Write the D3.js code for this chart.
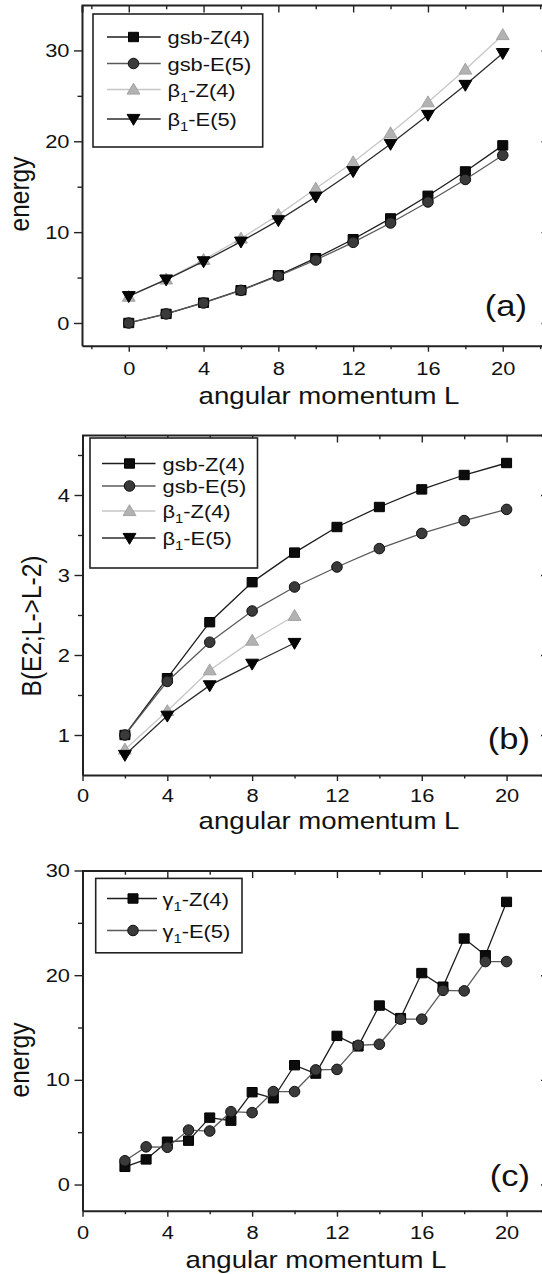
<!DOCTYPE html>
<html>
<head>
<meta charset="utf-8">
<script src="https://cdn.jsdelivr.net/npm/d3@7"></script>
<style>
  body { margin: 0; background: #fff; }
  svg text { font-family: "Liberation Sans", Arial, sans-serif; fill: #111; }
</style>
</head>
<body>
<svg id="chart"></svg>
<script>
const width = 542;
const height = 1274;
const SX = 1.15; // the original figure is stretched a bit horizontally

// ---- panel (a): energies of ground and beta bands
const aL = [0, 2, 4, 6, 8, 10, 12, 14, 16, 18, 20];
const aGsbZ4 = [0, 1, 2.23, 3.61, 5.25, 7.13, 9.22, 11.51, 14.0, 16.68, 19.55];
const aGsbE5 = [0, 1, 2.2, 3.59, 5.17, 6.93, 8.88, 11.01, 13.32, 15.8, 18.46];
const aBetaZ4 = [2.9, 4.8, 6.95, 9.3, 11.9, 14.8, 17.7, 20.9, 24.3, 27.9, 31.7];
const aBetaE5 = [2.95, 4.78, 6.78, 8.95, 11.3, 13.9, 16.7, 19.7, 22.9, 26.2, 29.7];

// ---- panel (b): B(E2; L -> L-2)
const bL = [2, 4, 6, 8, 10, 12, 14, 16, 18, 20];
const bGsbZ4 = [1.0, 1.71, 2.41, 2.91, 3.28, 3.6, 3.85, 4.07, 4.25, 4.4];
const bGsbE5 = [1.0, 1.67, 2.16, 2.55, 2.85, 3.1, 3.33, 3.52, 3.68, 3.82];
const bBetaL = [2, 4, 6, 8, 10];
const bBetaZ4 = [0.82, 1.3, 1.81, 2.18, 2.49];
const bBetaE5 = [0.75, 1.24, 1.62, 1.89, 2.15];

// ---- panel (c): gamma band energies
const cL = [2, 3, 4, 5, 6, 7, 8, 9, 10, 11, 12, 13, 14, 15, 16, 17, 18, 19, 20];
const cGammaZ4 = [1.69, 2.4, 4.09, 4.19, 6.39, 6.1, 8.82, 8.24, 11.4, 10.6, 14.2, 13.2, 17.1, 15.9, 20.2, 18.9, 23.5, 21.9, 27.0];
const cGammaE5 = [2.27, 3.6, 3.56, 5.2, 5.11, 6.96, 6.87, 8.88, 8.88, 10.95, 11.0, 13.3, 13.4, 15.8, 15.8, 18.55, 18.5, 21.3, 21.3];

// tick values
const xMajor = [0, 4, 8, 12, 16, 20];
const aXMinor = [-2, 2, 6, 10, 14, 18, 22];
const bcXMinor = [2, 6, 10, 14, 18];
const energyMajor = [0, 10, 20, 30];
const energyMinor = [5, 15, 25];
const bYMajor = [1, 2, 3, 4];
const bYMinor = [1.5, 2.5, 3.5, 4.5];

// marker shapes and colours
const shapes = {
  square: "M-5,-4.7H5V4.7H-5Z",
  circle: d3.symbol(d3.symbolCircle, 88)(),
  up: "M0,-6.3L6.4,4.6L-6.4,4.6Z",
  down: "M0,6.3L6.4,-4.6L-6.4,-4.6Z"
};
const styles = {
  sq:   {shape: "square", fill: "#0c0c0c", stroke: "#000",   line: "#1c1c1c"},
  ci:   {shape: "circle", fill: "#3a3a3a", stroke: "#111",   line: "#5a5a5a"},
  up:   {shape: "up",     fill: "#b2b2b2", stroke: "#a2a2a2", line: "#c6c6c6"},
  down: {shape: "down",   fill: "#050505", stroke: "#000",   line: "#2c2c2c"}
};

const svg = d3.select("#chart")
  .attr("width", width)
  .attr("height", height);

const panels = [
  {
    left: 82, right: 549.5, top: 5, bottom: 345.7,
    xDomain: [-2.5, 22.5], yDomain: [-2.5, 35],
    xMinor: aXMinor, yMajor: energyMajor, yMinor: energyMinor,
    series: [
      {sub: null, pre: "gsb-Z(4)", L: aL, v: aGsbZ4, st: styles.sq},
      {sub: null, pre: "gsb-E(5)", L: aL, v: aGsbE5, st: styles.ci},
      {sub: "1", pre: "β", post: "-Z(4)", L: aL, v: aBetaZ4, st: styles.up},
      {sub: "1", pre: "β", post: "-E(5)", L: aL, v: aBetaE5, st: styles.down}
    ],
    legend: {x0: 93, y0: 14, x1: 262.7, y1: 147, rows: [37, 63.5, 89.5, 119], lx: [107, 160.7], mx: 133.5, tx: 167.5},
    tag: "(a)", tagX: 527, tagY: 315.5,
    yTitle: "energy", yTitleX: 29, yTitleY: 194,
    tickY: 29.5, xTitleX: 329, xTitleY: 404
  },
  {
    left: 82.5, right: 549, top: 435, bottom: 775,
    xDomain: [0, 22], yDomain: [0.5, 4.75],
    xMinor: bcXMinor, yMajor: bYMajor, yMinor: bYMinor,
    series: [
      {sub: null, pre: "gsb-Z(4)", L: bL, v: bGsbZ4, st: styles.sq},
      {sub: null, pre: "gsb-E(5)", L: bL, v: bGsbE5, st: styles.ci},
      {sub: "1", pre: "β", post: "-Z(4)", L: bBetaL, v: bBetaZ4, st: styles.up},
      {sub: "1", pre: "β", post: "-E(5)", L: bBetaL, v: bBetaE5, st: styles.down}
    ],
    legend: {x0: 90, y0: 438, x1: 257.5, y1: 568, rows: [463.5, 486, 511, 538], lx: [102, 155.5], mx: 129.5, tx: 162.5},
    tag: "(b)", tagX: 530, tagY: 748.5,
    yTitle: "B(E2;L->L-2)", yTitleX: 41, yTitleY: 626,
    tickY: 27.5, xTitleX: 329, xTitleY: 828.5
  },
  {
    left: 82.5, right: 549, top: 870.5, bottom: 1210.7,
    xDomain: [0, 22], yDomain: [-2.5, 30],
    xMinor: bcXMinor, yMajor: energyMajor, yMinor: energyMinor,
    series: [
      {sub: "1", pre: "γ", post: "-Z(4)", L: cL, v: cGammaZ4, st: styles.sq},
      {sub: "1", pre: "γ", post: "-E(5)", L: cL, v: cGammaE5, st: styles.ci}
    ],
    legend: {x0: 95.7, y0: 878.4, x1: 242, y1: 952.8, rows: [898.5, 930.5], lx: [107, 157], mx: 133, tx: 162.5},
    tag: "(c)", tagX: 530, tagY: 1185.5,
    yTitle: "energy", yTitleX: 29, yTitleY: 1060,
    tickY: 28.5, xTitleX: 316, xTitleY: 1267.5
  }
];

function styleAxis(sel) {
  sel.select(".domain").attr("stroke", "#222").attr("stroke-width", 2);
  sel.selectAll(".tick line").attr("stroke", "#222").attr("stroke-width", 1.4);
}

function legendLabel(text, s, size) {
  if (!s.sub) {
    text.text(s.pre);
    return;
  }
  text.append("tspan").text(s.pre);
  text.append("tspan").text(s.sub).attr("font-size", size * 0.68).attr("dy", 5);
  text.append("tspan").text(s.post).attr("dy", -5);
}

panels.forEach(p => {
  const w = p.right - p.left;
  const h = p.bottom - p.top;
  const g = svg.append("g").attr("transform", `translate(${p.left},${p.top})`);

  const x = d3.scaleLinear().domain(p.xDomain).range([0, w]);
  const y = d3.scaleLinear().domain(p.yDomain).range([h, 0]);

  // bottom axis with labels
  const bottom = g.append("g").attr("transform", `translate(0,${h})`)
    .call(d3.axisBottom(x).tickValues(xMajor).tickSizeInner(6).tickSizeOuter(0));
  bottom.selectAll(".tick text")
    .attr("y", p.tickY).attr("dy", 0)
    .attr("font-size", 19)
    .attr("transform", `scale(${SX},1)`);
  styleAxis(bottom);
  const bottomMinor = g.append("g").attr("transform", `translate(0,${h})`)
    .call(d3.axisBottom(x).tickValues(p.xMinor).tickSize(3.5).tickFormat(""));
  bottomMinor.select(".domain").remove();
  styleAxis(bottomMinor);

  // top axis, ticks inward
  const top = g.append("g")
    .call(d3.axisTop(x).tickValues(xMajor).tickSize(-7.5).tickFormat(""));
  styleAxis(top);
  const topMinor = g.append("g")
    .call(d3.axisTop(x).tickValues(p.xMinor).tickSize(-4.3).tickFormat(""));
  topMinor.select(".domain").remove();
  styleAxis(topMinor);

  // left axis with labels
  const leftAx = g.append("g")
    .call(d3.axisLeft(y).tickValues(p.yMajor).tickSizeInner(8).tickSizeOuter(0).tickFormat(d3.format("d")));
  leftAx.selectAll(".tick text")
    .attr("x", -12.5 / SX)
    .attr("font-size", 19)
    .attr("transform", `scale(${SX},1)`);
  styleAxis(leftAx);
  const leftMinor = g.append("g")
    .call(d3.axisLeft(y).tickValues(p.yMinor).tickSize(4.5).tickFormat(""));
  leftMinor.select(".domain").remove();
  styleAxis(leftMinor);

  // right axis, ticks inward (mostly off the page)
  const rightAx = g.append("g").attr("transform", `translate(${w},0)`)
    .call(d3.axisRight(y).tickValues(p.yMajor).tickSize(-8).tickFormat(""));
  styleAxis(rightAx);

  // series
  p.series.forEach(s => {
    const pts = s.L.map((L, i) => [L, s.v[i]]);
    g.append("path")
      .datum(pts)
      .attr("fill", "none")
      .attr("stroke", s.st.line)
      .attr("stroke-width", 1.3)
      .attr("d", d3.line().x(d => x(d[0])).y(d => y(d[1])));
    g.selectAll(null)
      .data(pts)
      .enter()
      .append("path")
      .attr("d", shapes[s.st.shape])
      .attr("transform", d => `translate(${x(d[0])},${y(d[1])})`)
      .attr("fill", s.st.fill)
      .attr("stroke", s.st.stroke)
      .attr("stroke-width", 1);
  });

  // legend box
  const lg = p.legend;
  const legend = svg.append("g").attr("class", "legend");
  legend.append("rect")
    .attr("x", lg.x0).attr("y", lg.y0)
    .attr("width", lg.x1 - lg.x0).attr("height", lg.y1 - lg.y0)
    .attr("fill", "#fff")
    .attr("stroke", "#222")
    .attr("stroke-width", 1.6);
  p.series.forEach((s, i) => {
    const ry = lg.rows[i];
    legend.append("line")
      .attr("x1", lg.lx[0]).attr("x2", lg.lx[1])
      .attr("y1", ry).attr("y2", ry)
      .attr("stroke", s.st.line)
      .attr("stroke-width", 1.3);
    legend.append("path")
      .attr("d", shapes[s.st.shape])
      .attr("transform", `translate(${lg.mx},${ry})`)
      .attr("fill", s.st.fill)
      .attr("stroke", s.st.stroke);
    const t = legend.append("text")
      .attr("transform", `translate(${lg.tx},${ry + 7}) scale(${SX},1)`)
      .attr("font-size", 19);
    legendLabel(t, s, 19);
  });

  // panel tag
  svg.append("text")
    .attr("transform", `translate(${p.tagX},${p.tagY}) scale(${SX},1)`)
    .attr("text-anchor", "end")
    .attr("font-size", 30)
    .text(p.tag);

  // axis titles
  svg.append("text")
    .attr("transform", `translate(${p.xTitleX},${p.xTitleY}) scale(${SX},1)`)
    .attr("text-anchor", "middle")
    .attr("font-size", 24)
    .text("angular momentum L");
  svg.append("text")
    .attr("transform", `translate(${p.yTitleX},${p.yTitleY}) rotate(-90) scale(1,${SX})`)
    .attr("text-anchor", "middle")
    .attr("font-size", 24.5)
    .text(p.yTitle);
});
</script>
</body>
</html>
